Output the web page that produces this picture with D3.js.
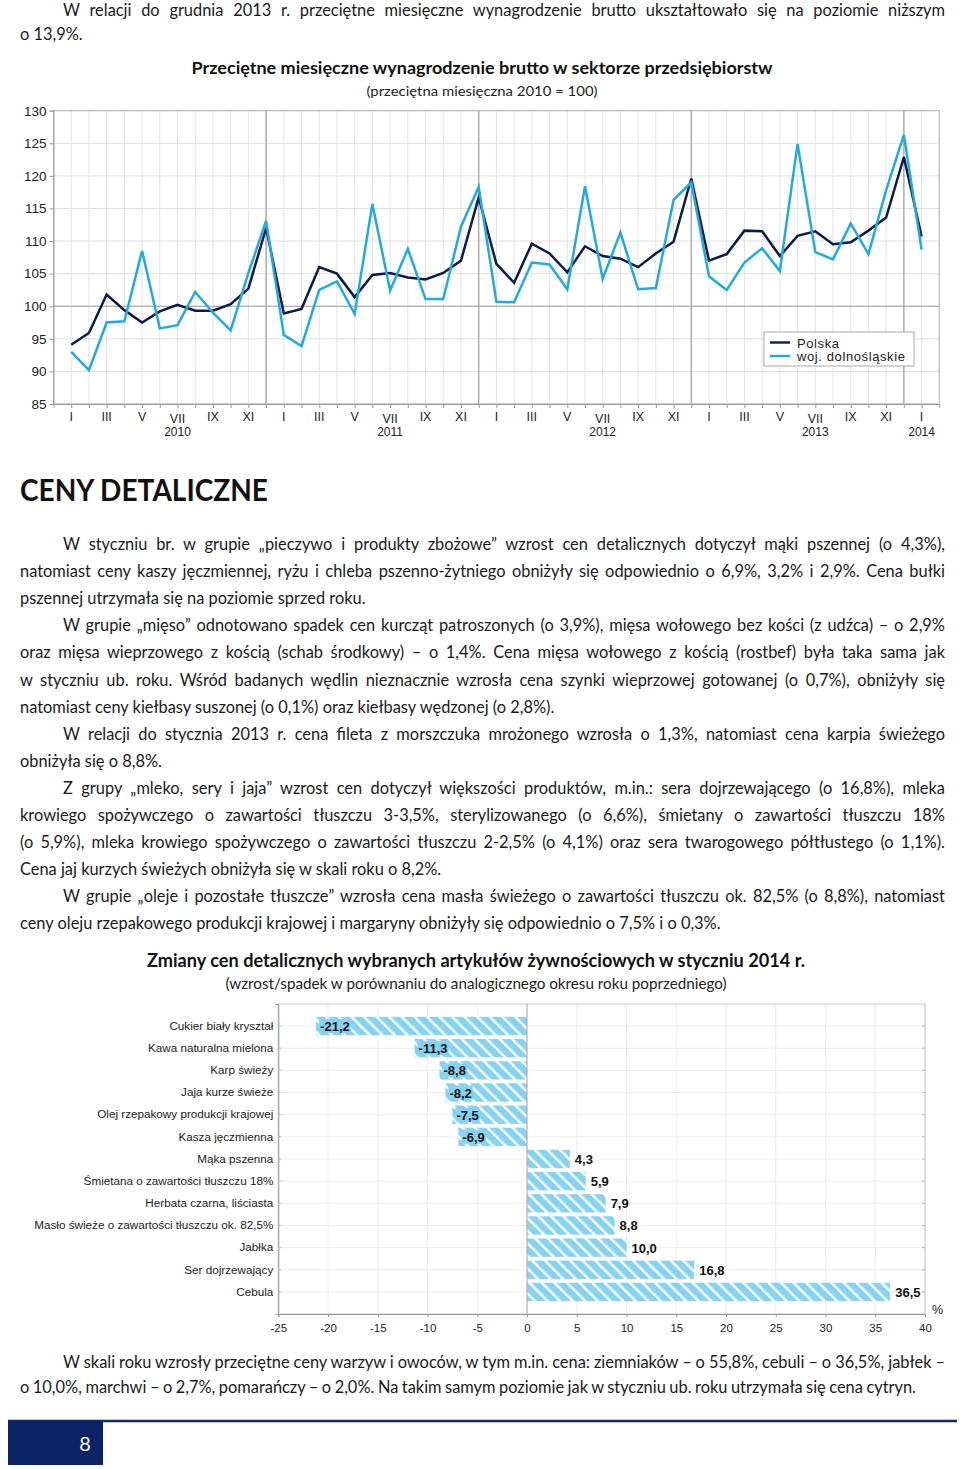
<!DOCTYPE html>
<html><head><meta charset="utf-8">
<script src="https://cdn.jsdelivr.net/npm/d3@7"></script>
<style>
html,body{margin:0;padding:0;background:#fff;}
svg{display:block;}
.body{font-family:Lato,"Open Sans",sans-serif;font-size:16.4px;fill:#1a1a1a;}
.ax{font-family:"Liberation Sans",Arial,sans-serif;fill:#222;}
</style></head>
<body>
<script>
// ---------- DATA ----------
const monthLabels = ["I","II","III","IV","V","VI","VII","VIII","IX","X","XI","XII"];
const years = [2010, 2011, 2012, 2013, 2014];
const yTicks = [85, 90, 95, 100, 105, 110, 115, 120, 125, 130];
const polska = [94.1, 95.9, 101.8, 99.4, 97.5, 99.2, 100.2, 99.3, 99.3, 100.3, 102.7, 112.0,
  98.9, 99.6, 106.0, 105.0, 101.4, 104.8, 105.1, 104.4, 104.1, 105.1, 107.0, 116.7,
  106.5, 103.6, 109.6, 108.1, 105.2, 109.2, 107.7, 107.3, 106.0, 108.1, 109.9, 119.6,
  107.0, 108.0, 111.6, 111.5, 107.7, 110.8, 111.5, 109.5, 109.8, 111.6, 113.6, 122.9,
  110.7];
const dolnoslaskie = [93.0, 90.2, 97.5, 97.7, 108.5, 96.6, 97.1, 102.2, 99.0, 96.3, 105.1, 113.1,
  95.6, 93.9, 102.5, 103.8, 98.8, 115.7, 102.4, 108.8, 101.1, 101.1, 112.2, 118.3,
  100.7, 100.6, 106.7, 106.4, 102.6, 118.4, 104.2, 111.3, 102.6, 102.8, 116.3, 119.0,
  104.6, 102.5, 106.7, 108.9, 105.4, 124.9, 108.3, 107.2, 112.7, 108.0, 117.8, 126.3,
  108.7];
const seriesNames = ["Polska", "woj. dolnośląskie"];

const categories = ["Cukier biały kryształ","Kawa naturalna mielona","Karp świeży","Jaja kurze świeże",
  "Olej rzepakowy produkcji krajowej","Kasza jęczmienna","Mąka pszenna","Śmietana o zawartości tłuszczu 18%",
  "Herbata czarna, liściasta","Masło świeże o zawartości tłuszczu ok. 82,5%","Jabłka","Ser dojrzewający","Cebula"];
const changes = [-21.2, -11.3, -8.8, -8.2, -7.5, -6.9, 4.3, 5.9, 7.9, 8.8, 10.0, 16.8, 36.5];
const barTicks = [-25, -20, -15, -10, -5, 0, 5, 10, 15, 20, 25, 30, 35, 40];

// ---------- SVG ----------
const W = 960, H = 1469;
const svg = d3.select("body").append("svg").attr("width", W).attr("height", H);
svg.append("rect").attr("width", W).attr("height", H).attr("fill", "#fff");

function textLine(txt, x0, x1, y, justify) {
  const t = svg.append("text").attr("class", "body").attr("x", x0).attr("y", y).text(txt);
  const w = t.node().getComputedTextLength();
  if (justify) {
    const spaces = (txt.match(/ /g) || []).length;
    const extra = (x1 - x0) - w;
    if (extra >= 0 && spaces) t.style("word-spacing", (extra / spaces) + "px");
    else t.style("word-spacing", (extra / Math.max(1, spaces)) + "px");
  }
  return t;
}
const L = 20, R = 945, IND = 63;

// top text
textLine("W relacji do grudnia 2013 r. przeciętne miesięczne wynagrodzenie brutto ukształtowało się na poziomie niższym", IND, R, 16, true);
textLine("o 13,9%.", L, R, 40, false);

// ---------- LINE CHART ----------
svg.append("text").attr("x", 482).attr("y", 74).attr("text-anchor", "middle")
  .style("font-family", "Lato,sans-serif").style("font-weight", "bold").style("font-size", "17px").style("fill", "#111")
  .attr("textLength", 581).attr("lengthAdjust", "spacingAndGlyphs")
  .text("Przeciętne miesięczne wynagrodzenie brutto w sektorze przedsiębiorstw");
svg.append("text").attr("x", 482).attr("y", 96).attr("text-anchor", "middle")
  .style("font-family", "Lato,sans-serif").style("font-size", "14px").style("fill", "#222")
  .attr("textLength", 231).attr("lengthAdjust", "spacingAndGlyphs")
  .text("(przeciętna miesięczna 2010 = 100)");

const x = d3.scaleLinear().domain([-1, 49]).range([53.5, 939.3]);
const y = d3.scaleLinear().domain([85, 130]).range([404, 110.7]);
const idx = d3.range(polska.length);
const lc = svg.append("g");
// grid
lc.selectAll(".vg").data(d3.range(-1, 50)).join("line")
  .attr("x1", d => x(d)).attr("x2", d => x(d)).attr("y1", y(130)).attr("y2", y(85))
  .attr("stroke", "#e4e4e4").attr("stroke-width", 1);
lc.selectAll(".hg").data(yTicks).join("line")
  .attr("x1", x(-1)).attr("x2", x(49)).attr("y1", d => y(d)).attr("y2", d => y(d))
  .attr("stroke", "#e0e0e0").attr("stroke-width", 1);
lc.append("line").attr("x1", x(-1)).attr("x2", x(49)).attr("y1", y(100)).attr("y2", y(100))
  .attr("stroke", "#a0a0a0").attr("stroke-width", 1.2);
lc.selectAll(".dec").data(idx.filter(i => i % 12 === 11)).join("line")
  .attr("x1", d => x(d)).attr("x2", d => x(d)).attr("y1", y(130)).attr("y2", y(85))
  .attr("stroke", "#a0a0a0").attr("stroke-width", 1.2);
lc.append("rect").attr("x", x(-1)).attr("y", y(130)).attr("width", x(49) - x(-1)).attr("height", y(85) - y(130))
  .attr("fill", "none").attr("stroke", "#b5b5b5");
// axes
const yAx = lc.append("g").attr("transform", `translate(${x(-1)},0)`)
  .call(d3.axisLeft(y).tickValues(yTicks).tickSize(4).tickPadding(3));
yAx.select(".domain").attr("stroke", "#999");
yAx.selectAll(".tick line").attr("stroke", "#999");
yAx.selectAll("text").attr("class", "ax").style("font-size", "13.5px").style("font-family", "'Liberation Sans',Arial,sans-serif").attr("fill", "#222");
const xAx = lc.append("g").attr("transform", `translate(0,${y(85)})`)
  .call(d3.axisBottom(x).tickValues(idx).tickSize(4).tickFormat(""));
xAx.select(".domain").attr("stroke", "#999");
xAx.selectAll(".tick line").attr("stroke", "#999");
lc.selectAll(".ml").data(idx.filter(i => i % 2 === 0)).join("text")
  .attr("class", "ax").attr("x", d => x(d)).attr("y", d => (d % 12 === 6 ? 423 : 421))
  .attr("text-anchor", "middle").style("font-size", "12.5px")
  .text(d => monthLabels[d % 12]);
lc.selectAll(".yl").data(years).join("text")
  .attr("class", "ax").attr("x", (d, k) => x(k < 4 ? k * 12 + 6 : 48)).attr("y", 436)
  .attr("text-anchor", "middle").style("font-size", "12px").text(d => d);
// lines
const line = d3.line().x((d, i) => x(i)).y(d => y(d));
const lineColors = ["#0c1a4a", "#22aade"];
[polska, dolnoslaskie].forEach((s, k) => {
  lc.append("path").datum(s).attr("d", line).attr("fill", "none")
    .attr("stroke", lineColors[k]).attr("stroke-width", 2.5).attr("stroke-linejoin", "miter");
});
// legend
const lg = lc.append("g");
lg.append("rect").attr("x", 764).attr("y", 332).attr("width", 150).attr("height", 34)
  .attr("fill", "#fff").attr("stroke", "#aaa");
seriesNames.forEach((n, k) => {
  const yy = 342.5 + k * 13.5;
  lg.append("line").attr("x1", 770).attr("x2", 790).attr("y1", yy).attr("y2", yy)
    .attr("stroke", lineColors[k]).attr("stroke-width", 2.4);
  lg.append("text").attr("class", "ax").attr("x", 797).attr("y", yy + 5)
    .style("font-size", "13px").style("letter-spacing", "0.6px").text(n);
});

// ---------- HEADING ----------
svg.append("text").attr("x", 20).attr("y", 501)
  .style("font-family", "Lato,sans-serif").style("font-weight", "bold").style("font-size", "30px").style("fill", "#111")
  .attr("textLength", 248).attr("lengthAdjust", "spacingAndGlyphs").text("CENY DETALICZNE");

const paras = [
  [["W styczniu br. w grupie „pieczywo i produkty zbożowe” wzrost cen detalicznych dotyczył mąki pszennej (o 4,3%),", 1],
   ["natomiast ceny kaszy jęczmiennej, ryżu i chleba pszenno-żytniego obniżyły się odpowiednio o 6,9%, 3,2% i 2,9%. Cena bułki", 1],
   ["pszennej utrzymała się na poziomie sprzed roku.", 0]],
  [["W grupie „mięso” odnotowano spadek cen kurcząt patroszonych (o 3,9%), mięsa wołowego bez kości (z udźca) – o 2,9%", 1],
   ["oraz mięsa wieprzowego z kością (schab środkowy) – o 1,4%. Cena mięsa wołowego z kością (rostbef) była taka sama jak", 1],
   ["w styczniu ub. roku. Wśród badanych wędlin nieznacznie wzrosła cena szynki wieprzowej gotowanej (o 0,7%), obniżyły się", 1],
   ["natomiast ceny kiełbasy suszonej (o 0,1%) oraz kiełbasy wędzonej (o 2,8%).", 0]],
  [["W relacji do stycznia 2013 r. cena fileta z morszczuka mrożonego wzrosła o 1,3%, natomiast cena karpia świeżego", 1],
   ["obniżyła się o 8,8%.", 0]],
  [["Z grupy „mleko, sery i jaja” wzrost cen dotyczył większości produktów, m.in.: sera dojrzewającego (o 16,8%), mleka", 1],
   ["krowiego spożywczego o zawartości tłuszczu 3-3,5%, sterylizowanego (o 6,6%), śmietany o zawartości tłuszczu 18%", 1],
   ["(o 5,9%), mleka krowiego spożywczego o zawartości tłuszczu 2-2,5% (o 4,1%) oraz sera twarogowego półtłustego (o 1,1%).", 1],
   ["Cena jaj kurzych świeżych obniżyła się w skali roku o 8,2%.", 0]],
  [["W grupie „oleje i pozostałe tłuszcze” wzrosła cena masła świeżego o zawartości tłuszczu ok. 82,5% (o 8,8%), natomiast", 1],
   ["ceny oleju rzepakowego produkcji krajowej i margaryny obniżyły się odpowiednio o 7,5% i o 0,3%.", 0]]
];
let by = 550;
paras.forEach(p => {
  p.forEach((ln, j) => {
    textLine(ln[0], j === 0 ? IND : L, R, by, ln[1] === 1);
    by += 27.1;
  });
});

// ---------- BAR CHART ----------
svg.append("text").attr("x", 476).attr("y", 967).attr("text-anchor", "middle")
  .style("font-family", "Lato,sans-serif").style("font-weight", "bold").style("font-size", "18px").style("fill", "#111")
  .attr("textLength", 658).attr("lengthAdjust", "spacingAndGlyphs")
  .text("Zmiany cen detalicznych wybranych artykułów żywnościowych w styczniu 2014 r.");
svg.append("text").attr("x", 476).attr("y", 989).attr("text-anchor", "middle")
  .style("font-family", "Lato,sans-serif").style("font-size", "15px").style("fill", "#222")
  .attr("textLength", 501).attr("lengthAdjust", "spacingAndGlyphs")
  .text("(wzrost/spadek w porównaniu do analogicznego okresu roku poprzedniego)");

const bx = d3.scaleLinear().domain([-25, 40]).range([278.3, 925]);
const byS = d3.scaleBand().domain(categories).range([1004, 1314]).paddingInner(0.17).paddingOuter(0.58);
const barColor = "#86d2f2";
const defs = svg.append("defs");
const pat = defs.append("pattern").attr("id", "hatch").attr("patternUnits", "userSpaceOnUse")
  .attr("width", 8.9).attr("height", 8.9).attr("patternTransform", "rotate(-45)");
pat.append("rect").attr("width", 8.9).attr("height", 8.9).attr("fill", barColor);
pat.append("rect").attr("x", 0).attr("width", 2.4).attr("height", 8.9).attr("fill", "#fff");

const bc = svg.append("g");
bc.selectAll(".bvg").data(barTicks).join("line")
  .attr("x1", d => bx(d)).attr("x2", d => bx(d)).attr("y1", 1004).attr("y2", 1314)
  .attr("stroke", "#ececec");
bc.selectAll(".bhg").data(categories).join("line")
  .attr("x1", bx(-25)).attr("x2", bx(40)).attr("y1", d => byS(d) + byS.bandwidth() / 2).attr("y2", d => byS(d) + byS.bandwidth() / 2)
  .attr("stroke", "#ececec");
bc.append("rect").attr("x", bx(-25)).attr("y", 1004).attr("width", bx(40) - bx(-25)).attr("height", 310)
  .attr("fill", "none").attr("stroke", "#c8c8c8");
// right-side small ticks
bc.selectAll(".rt").data(categories).join("line")
  .attr("x1", bx(40) - 3).attr("x2", bx(40)).attr("y1", d => byS(d) + byS.bandwidth() / 2).attr("y2", d => byS(d) + byS.bandwidth() / 2)
  .attr("stroke", "#bbb");
const byAx = bc.append("g").attr("transform", `translate(${bx(-25)},0)`)
  .call(d3.axisLeft(byS).tickSize(3).tickPadding(2));
byAx.select(".domain").attr("stroke", "#999");
byAx.selectAll(".tick line").attr("stroke", "#bbb").attr("x2", 3);
byAx.selectAll("text").style("font-family", "'Liberation Sans',Arial,sans-serif").style("font-size", "11.7px").attr("fill", "#222");
const bxAx = bc.append("g").attr("transform", "translate(0,1314)")
  .call(d3.axisBottom(bx).tickValues(barTicks).tickSize(3).tickPadding(7).tickFormat(d => d));
bxAx.select(".domain").attr("stroke", "#999");
bxAx.selectAll(".tick line").attr("stroke", "#999");
bxAx.selectAll("text").style("font-family", "'Liberation Sans',Arial,sans-serif").style("font-size", "11.5px").attr("fill", "#222");
bc.append("text").attr("class", "ax").attr("x", 932).attr("y", 1314).style("font-size", "12.5px").text("%");

bc.selectAll(".bar").data(changes).join("rect")
  .attr("x", d => bx(Math.min(0, d))).attr("width", d => Math.abs(bx(d) - bx(0)))
  .attr("y", (d, i) => byS(categories[i])).attr("height", byS.bandwidth())
  .attr("fill", "url(#hatch)");
bc.append("line").attr("x1", bx(0)).attr("x2", bx(0)).attr("y1", 1004).attr("y2", 1314).attr("stroke", "#aaa");
const fmt = d => d.toFixed(1).replace(".", ",");
changes.forEach((d, i) => {
  const cy = byS(categories[i]) + byS.bandwidth() / 2;
  const tx = d < 0 ? bx(d) + 4 : bx(d) + 5;
  const g = bc.append("g");
  const t = g.append("text").attr("x", tx).attr("y", cy + 5)
    .style("font-family", "'Liberation Sans',Arial,sans-serif").style("font-weight", "bold").style("font-size", "13px")
    .attr("fill", "#111").text(fmt(d));
  if (d < 0) {
    const w = t.node().getComputedTextLength();
    g.insert("rect", "text").attr("x", tx - 1).attr("y", cy - 7).attr("width", w + 2).attr("height", 14).attr("fill", barColor);
  }
});

// bottom text
textLine("W skali roku wzrosły przeciętne ceny warzyw i owoców, w tym m.in. cena: ziemniaków – o 55,8%, cebuli – o 36,5%, jabłek –", IND, R, 1368, true);
textLine("o 10,0%, marchwi – o 2,7%, pomarańczy – o 2,0%. Na takim samym poziomie jak w styczniu ub. roku utrzymała się cena cytryn.", L, 916, 1393, true);

// footer
svg.append("line").attr("x1", 8).attr("x2", 957).attr("y1", 1421).attr("y2", 1421).attr("stroke", "#14286a").attr("stroke-width", 2.5);
svg.append("rect").attr("x", 8).attr("y", 1421).attr("width", 95).attr("height", 44).attr("fill", "#0b2366");
svg.append("text").attr("x", 85).attr("y", 1451).attr("text-anchor", "middle")
  .style("font-family", "Lato,sans-serif").style("font-size", "20px").attr("fill", "#fff").text("8");
</script>
</body></html>
